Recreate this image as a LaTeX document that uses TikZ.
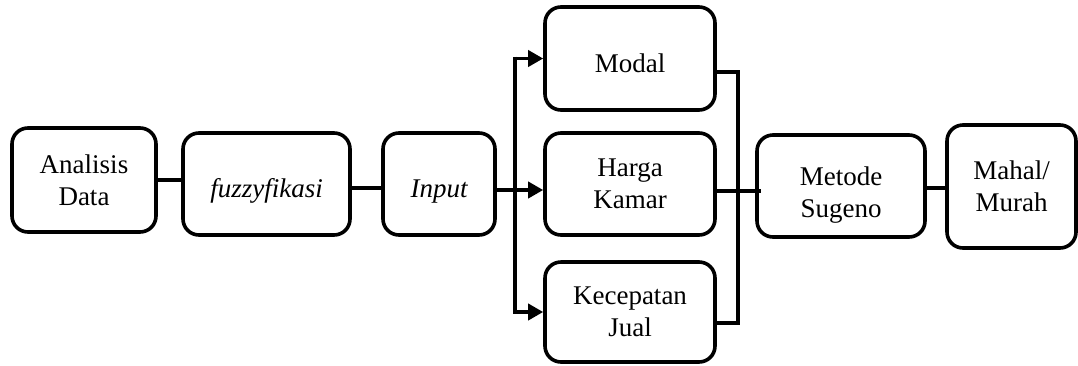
\documentclass[tikz,border=0pt]{standalone}
\usepackage{fontspec}
\setmainfont{Liberation Serif}
\usetikzlibrary{arrows.meta}
\begin{document}
\begin{tikzpicture}[x=1pt,y=-1pt,
  box/.style={draw,line width=3.6pt,rounded corners=16pt,align=center,
    inner sep=0pt,font=\fontsize{27}{32}\selectfont},
  link/.style={line width=3.6pt},
  arr/.style={line width=3.6pt,-{Triangle[length=15pt,width=16pt]}},
]
\useasboundingbox (0,0) rectangle (1078,365);

% main chain
\node[box,minimum width=144pt,minimum height=104pt] (ad) at (84,180) {Analisis\\Data};
\node[box,minimum width=167pt,minimum height=102pt,text height=33pt,text depth=6pt] (fz) at (266.5,184) {\itshape fuzzyfikasi};
\node[box,minimum width=112pt,minimum height=102pt,text height=33pt,text depth=6pt] (in) at (439,184) {\itshape Input};

% input variables
\node[box,minimum width=170pt,minimum height=103pt,text height=27pt,text depth=0pt] (mo) at (630,58.5) {Modal};
\node[box,minimum width=170pt,minimum height=102pt] (hk) at (630,184) {Harga\\Kamar};
\node[box,minimum width=170pt,minimum height=100pt] (kj) at (630,312) {Kecepatan\\Jual};

% inference and result
\node[box,minimum width=168pt,minimum height=102pt] (ms) at (841,186)
  {\raisebox{-15pt}[0pt][0pt]{\begin{tabular}{@{}c@{}}Metode\\Sugeno\end{tabular}}};
\node[box,minimum width=129pt,minimum height=123pt] (mm) at (1011.5,186.5) {Mahal/\\Murah};

% bus positions
\coordinate (lb) at (515,0);
\coordinate (rb) at (738,0);

% connectors
\draw[link] (ad.east) -- (ad.east -| fz.west);
\draw[link] ([yshift=-4pt]fz.east) -- ([yshift=-4pt]fz.east -| in.west);
\draw[arr] ([yshift=-6pt]in.east) -- ([yshift=-6pt]in.east -| hk.west);
\draw[arr] (lb |- mo.west) -- (mo.west);
\draw[arr] (lb |- kj.west) -- (kj.west);
\draw[link] ([yshift=1.8pt]lb |- mo.west) -- ([yshift=-1.8pt]lb |- kj.west);

\draw[link] ([xshift=-3pt,yshift=-13.5pt]mo.east) -- ([yshift=-13.5pt]rb |- mo.east)
  -- ([yshift=-11pt]rb |- kj.east) -- ([xshift=-3pt,yshift=-11pt]kj.east);
\draw[link] ([xshift=-3pt,yshift=-7pt]hk.east) -- ([xshift=6pt,yshift=-5pt]ms.west);
\draw[link] ([yshift=-2pt]ms.east) -- ([yshift=-2pt]ms.east -| mm.west);
\end{tikzpicture}
\end{document}
